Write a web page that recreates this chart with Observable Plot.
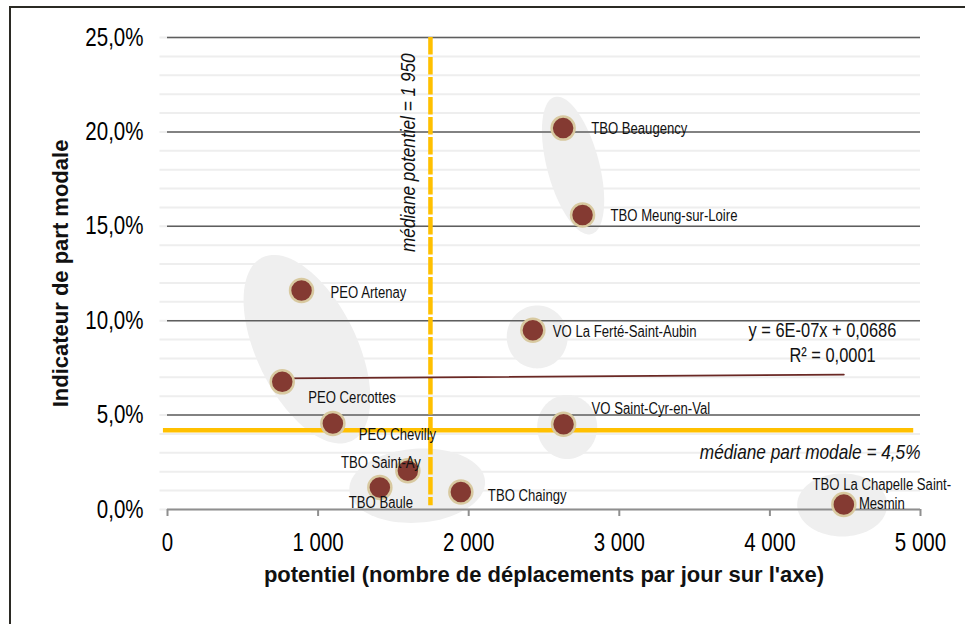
<!DOCTYPE html>
<html><head><meta charset="utf-8">
<script src="https://cdn.jsdelivr.net/npm/d3@7"></script>
<script src="https://cdn.jsdelivr.net/npm/@observablehq/plot@0.6"></script>
<style>
html,body{margin:0;padding:0;background:#fff;overflow:hidden;width:965px;height:624px}
#wrap{position:relative;width:965px;height:624px;overflow:hidden}
#frame{position:absolute;left:9px;top:6px;width:1000px;height:700px;border:2px solid #2b2a24;pointer-events:none}
#chart{position:absolute;left:0;top:0}
</style></head><body><div id="wrap"><div id="chart"></div><div id="frame"></div></div>
<script>
// ---- data ----
const names = ["TBO Beaugency","TBO Meung-sur-Loire","PEO Artenay","VO La Ferté-Saint-Aubin","PEO Cercottes","PEO Chevilly","VO Saint-Cyr-en-Val","TBO Saint-Ay","TBO Baule","TBO Chaingy","TBO La Chapelle Saint-\nMesmin"];
const potentiel = [2627, 2756, 890, 2426, 762, 1098, 2630, 1596, 1410, 1948, 4491];
const partModale = [0.202, 0.156, 0.116, 0.095, 0.0676, 0.0455, 0.0452, 0.0205, 0.0117, 0.0093, 0.0026];
const xTicks = [0, 1000, 2000, 3000, 4000, 5000];
const yTicks = [0, 0.05, 0.10, 0.15, 0.20, 0.25];
const yMinorTicks = [0,0.01,0.02,0.03,0.04,0.05,0.06,0.07,0.08,0.09,0.10,0.11,0.12,0.13,0.14,0.15,0.16,0.17,0.18,0.19,0.20,0.21,0.22,0.23,0.24,0.25];
const medianPotentiel = 1746;
const medianPotentielLabel = "médiane potentiel = 1 950";
const medianPart = 0.042;
const medianPartLabel = "médiane part modale = 4,5%";
const equationLines = ["y = 6E-07x + 0,0686", "R² = 0,0001"];
const xTitle = "potentiel (nombre de déplacements par jour sur l'axe)";
const yTitle = "Indicateur de part modale";
// groups (shaded ellipses): centre in data units
const groupX = [2693, 926, 2455, 2654, 1658, 4480];
const groupY = [0.1822, 0.0849, 0.0914, 0.0437, 0.0126, 0.0024];

// ---- styles ----
const BASE = "'Liberation Sans',Arial,sans-serif";
const NARROW_RATIO = 0.82;
const groupShape = [[26,71,-15],[50,102,-26],[30.5,31.5,0],[30,32,0],[68,37,-4],[45,31.5,0]];
const labelStyle = [
  {dx:28, dy:0, a:"start"}, {dx:28, dy:0, a:"start"}, {dx:29, dy:1, a:"start"},
  {dx:20, dy:1, a:"start"}, {dx:26, dy:15, a:"start"}, {dx:26, dy:10, a:"start"},
  {dx:28, dy:-16, a:"start"}, {dx:-27, dy:-9, a:"middle"}, {dx:1, dy:14, a:"middle"},
  {dx:27, dy:3, a:"start"}, {dx:38, dy:-11, a:"middle"}
];

const loc = d3.formatLocale({decimal: ",", thousands: "\u00a0", grouping: [3], currency: ["", "€"]});
const fmtPct = loc.format(".1%");
const fmtNum = loc.format(",");

const data = names.map((n, i) => ({name: n, x: potentiel[i], y: partModale[i]}));
const groups = groupX.map((x, i) => ({x, y: groupY[i]}));

function ellipseSymbol(rx, ry, deg) {
  const a = deg * Math.PI / 180, c = Math.cos(a), s = Math.sin(a);
  return {draw(ctx) {
    for (let i = 0; i <= 96; i++) {
      const t = i / 96 * 2 * Math.PI;
      const ex = rx * Math.cos(t), ey = ry * Math.sin(t);
      const px = ex * c - ey * s, py = ex * s + ey * c;
      if (i === 0) ctx.moveTo(px, py); else ctx.lineTo(px, py);
    }
    ctx.closePath();
  }};
}

const marks = [];
marks.push(Plot.ruleY(yMinorTicks, {x1: -50, x2: 5000, stroke: "#eeeeee", strokeWidth: 2}));
groups.forEach((g, i) => {
  const [rx, ry, deg] = groupShape[i];
  marks.push(Plot.dot([g], {x: "x", y: "y", r: 10, symbol: ellipseSymbol(rx, ry, deg), fill: "#efefef", stroke: "none"}));
});
marks.push(Plot.ruleY(yTicks.filter(d => d > 0), {x1: 0, x2: 5000, stroke: "#5e5e5e", strokeWidth: 1.5}));
marks.push(Plot.ruleY([0], {x1: 0, x2: 5000, stroke: "#8f8f8f", strokeWidth: 2}));
marks.push(Plot.axisX({ticks: xTicks, tickSize: 7, tickPadding: 17, tickFormat: fmtNum, stroke: "#8f8f8f", strokeWidth: 2, fill: "#000", fontSize: 25, fontFamily: BASE, label: null}));
marks.push(Plot.axisY({ticks: yTicks, tickSize: 0, tickPadding: 24, tickFormat: fmtPct, fill: "#000", fontSize: 25, fontFamily: BASE, label: null}));
// medians
marks.push(Plot.ruleX([medianPotentiel], {y1: 0.25, y2: 0.002, stroke: "#FFC000", strokeWidth: 4.5, strokeDasharray: "17.5,2.5"}));
marks.push(Plot.ruleY([medianPart], {x1: -27, x2: 4955, stroke: "#FFC000", strokeWidth: 4.5}));
marks.push(Plot.text([medianPotentielLabel], {x: medianPotentiel, y: 0.189, text: d => d, rotate: -90, dx: -22, fontSize: 21, fontStyle: "italic", fontFamily: BASE, fill: "#111"}));
marks.push(Plot.text([medianPartLabel], {x: 5000, y: medianPart, text: d => d, textAnchor: "end", dy: 22, fontSize: 21, fontStyle: "italic", fontFamily: BASE, fill: "#111"}));
// trend line
marks.push(Plot.linearRegressionY(data, {x: "x", y: "y", ci: 0, stroke: "#6a2824", strokeWidth: 1.8}));
// points
marks.push(Plot.dot(data, {x: "x", y: "y", r: 11.5, fill: "#843a32", stroke: "#d8c9a0", strokeWidth: 2.5}));
// labels
data.forEach((d, i) => {
  const s = labelStyle[i];
  marks.push(Plot.text([d], {x: "x", y: "y", text: "name", dx: s.dx, dy: s.dy, textAnchor: s.a, lineHeight: 1.19, fontSize: 16, fontFamily: BASE, fill: "#111"}));
});
// equation
marks.push(Plot.text([equationLines[0]], {x: 4349, y: 0.0946, text: d => d, fontSize: 20, fontFamily: BASE, fill: "#111"}));
marks.push(Plot.text([equationLines[1]], {x: 4416, y: 0.0816, text: d => d, fontSize: 20, fontFamily: BASE, fill: "#111"}));
// axis titles
marks.push(Plot.text([xTitle], {frameAnchor: "bottom", text: d => d, dy: 72, textAnchor: "middle", fontSize: 22, fontWeight: "bold", fontFamily: BASE, fill: "#111"}));
marks.push(Plot.text([yTitle], {frameAnchor: "left", text: d => d, dx: -107, rotate: -90, textAnchor: "middle", fontSize: 22, fontWeight: "bold", fontFamily: BASE, fill: "#111"}));

const chart = Plot.plot({
  width: 965, height: 624,
  marginLeft: 167, marginRight: 45, marginTop: 37, marginBottom: 115,
  x: {domain: [0, 5000]},
  y: {domain: [0, 0.25]},
  style: {background: "transparent", overflow: "visible", fontFamily: BASE},
  marks
});
document.getElementById("chart").appendChild(chart);

// emulate a narrow (condensed) face for all non-bold texts
chart.querySelectorAll("text").forEach(t => {
  if (getComputedStyle(t).fontWeight === "700" || getComputedStyle(t).fontWeight === "bold") return;
  const spans = t.querySelectorAll("tspan");
  const targets = spans.length ? Array.from(spans) : [t];
  targets.forEach(el => {
    const w = el.getComputedTextLength();
    if (w > 0) {
      el.setAttribute("textLength", (w * NARROW_RATIO).toFixed(2));
      el.setAttribute("lengthAdjust", "spacingAndGlyphs");
    }
  });
});
</script></body></html>
